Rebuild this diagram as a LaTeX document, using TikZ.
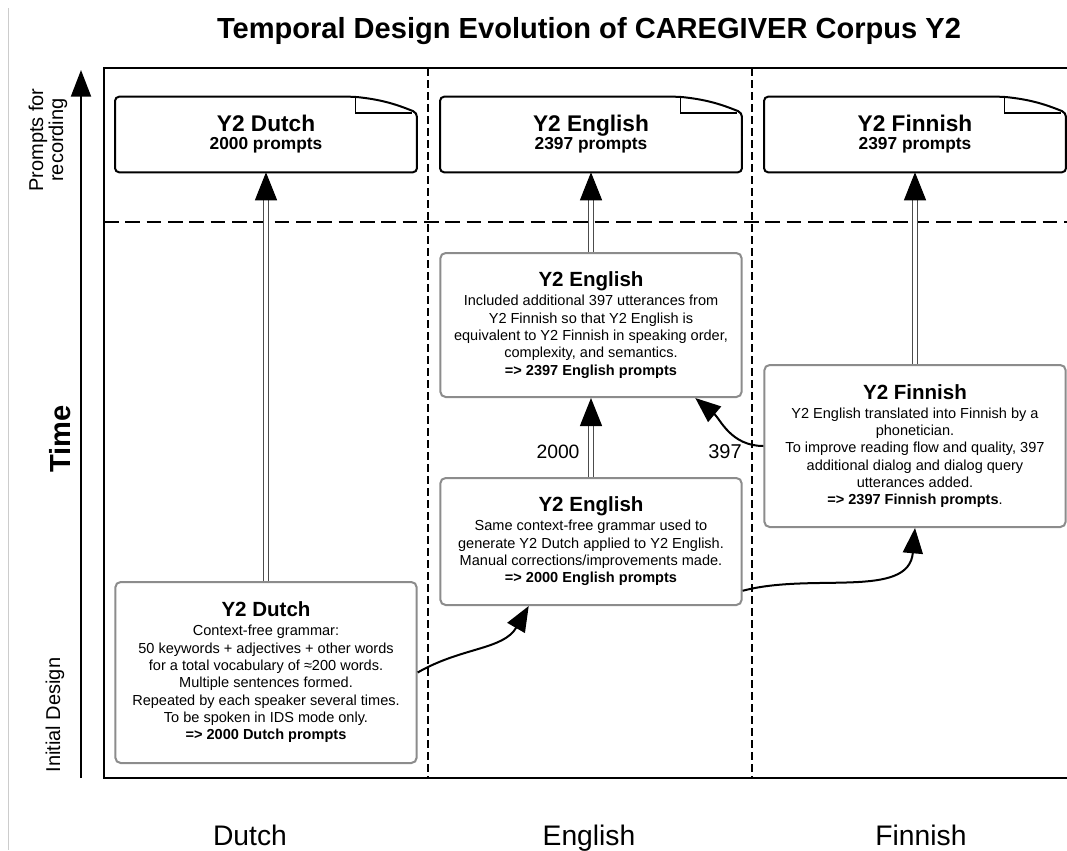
\documentclass[tikz,border=0pt]{standalone}
\usepackage{fontspec}
\setmainfont{Liberation Sans}
\usetikzlibrary{arrows.meta}

\newcommand{\stitle}[1]{{\fontsize{15.4}{18}\bfseries\selectfont #1}}
\newcommand{\dtitle}[1]{{\fontsize{17}{20}\bfseries\selectfont #1}}

\begin{document}
\begin{tikzpicture}[x=0.75pt, y=-0.75pt,
  stage/.style={draw=black!45, line width=1.5pt, rounded corners=4pt, fill=white,
    align=center, minimum width=226pt, inner sep=0pt, font=\fontsize{10.9}{13}\selectfont},
  doc/.style={minimum width=226pt, minimum height=56.25pt, inner sep=0pt, align=center,
    font=\fontsize{13}{13.5}\bfseries\selectfont},
  docline/.style={line width=1.5pt, rounded corners=3pt},
  dbl/.style={draw=black!70, line width=0.9pt, double=white, double distance=2.4pt,
    -{Triangle[length=21pt,width=16.5pt,color=black]}},
  flow/.style={line width=1.5pt, -{Triangle[length=19pt,width=15pt]}},
  colname/.style={anchor=base, font=\fontsize{21.2}{24}\selectfont}]
  \useasboundingbox (0,0) rectangle (1067,850);
  \draw[black!20, line width=0.75pt] (8,8) -- (8,850);
  \node[anchor=base, font=\fontsize{21.8}{26}\bfseries\selectfont] (title) at (589,38)
    {Temporal Design Evolution of CAREGIVER Corpus Y2};
  % axis and frame
  \draw[line width=1.5pt, -{Triangle[length=20pt,width=15pt]}] (81,778) -- (81,70);
  \draw[line width=1.5pt] (1067,68) -- (104,68) -- (104,778) -- (1067,778);
  \draw[line width=1.5pt, dash pattern=on 11pt off 5pt] (104,222) -- (1067,222);
  \draw[line width=1.5pt, dash pattern=on 6pt off 3pt] (428,68) -- (428,778);
  \draw[line width=1.5pt, dash pattern=on 6pt off 3pt] (752,68) -- (752,778);
  \node[rotate=90, align=center, font=\fontsize{15}{15}\selectfont] (prompts) at (48,140) {Prompts for\\recording};
  \node[rotate=90, font=\fontsize{21.8}{26}\bfseries\selectfont] (time) at (60,439) {Time};
  \node[rotate=90, font=\fontsize{15}{18}\selectfont] (initial) at (55,715) {Initial Design};
  % prompt sheets
  \node[doc] (docnl) at (266,134.5) {\dtitle{Y2 Dutch}\\2000 prompts};
  \node[doc] (docen) at (591,134.5) {\dtitle{Y2 English}\\2397 prompts};
  \node[doc] (docfi) at (915,134.5) {\dtitle{Y2 Finnish}\\2397 prompts};
  \foreach \d in {docnl,docen,docfi} {
    \draw[docline] (\d.north west) -- ([xshift=-47pt]\d.north east)
      to[bend left=8] ([yshift=-12pt]\d.north east) -- (\d.south east) -- (\d.south west) -- cycle;
    \draw[line width=1.2pt] ([xshift=-46pt]\d.north east) -- ++(0,-12pt) -- ([xshift=-4pt,yshift=-12pt]\d.north east);
  }
  % design stages
  \node[stage, minimum height=135.75pt] (nl) at (266,672.5) {\stitle{Y2 Dutch}\\[1.3pt]
    Context-free grammar:\\ 50 keywords + adjectives + other words\\
    for a total vocabulary of ≈200 words.\\ Multiple sentences formed.\\
    Repeated by each speaker several times.\\ To be spoken in IDS mode only.\\
    \textbf{=> 2000 Dutch prompts}};
  \node[stage, minimum height=95.25pt] (enlo) at (591,541.5) {\stitle{Y2 English}\\[1.3pt]
    Same context-free grammar used to\\ generate Y2 Dutch applied to Y2 English.\\
    Manual corrections/improvements made.\\ \textbf{=> 2000 English prompts}};
  \node[stage, minimum height=108pt] (enup) at (591,325) {\stitle{Y2 English}\\[1.3pt]
    Included additional 397 utterances from\\ Y2 Finnish so that Y2 English is\\
    equivalent to Y2 Finnish in speaking order,\\ complexity, and semantics.\\
    \textbf{=> 2397 English prompts}};
  \node[stage, minimum height=121.5pt] (fi) at (915,446) {\stitle{Y2 Finnish}\\[1.3pt]
    Y2 English translated into Finnish by a\\ phonetician.\\
    To improve reading flow and quality, 397\\ additional dialog and dialog query\\
    utterances added.\\ \textbf{=> 2397 Finnish prompts}.};
  % connectors
  \draw[dbl] (nl.north) -- (docnl.south);
  \draw[dbl] (enlo.north) -- (enup.south);
  \draw[dbl] (enup.north) -- (docen.south);
  \draw[dbl] (fi.north) -- (docfi.south);
  \draw[flow] (nl.east) to[out=30,in=-120] (enlo.226);
  \draw[flow] (enlo.-18) to[out=15,in=-95] (fi.south);
  \draw[flow] (fi.west) to[out=180,in=-40] (enup.-35);
  \node[font=\fontsize{14.5}{16}\selectfont] (n2000) at (558,452) {2000};
  \node[font=\fontsize{15}{16}\selectfont] (n397) at (725,452) {397};
  % languages
  \node[colname] (colnl) at (250,845) {Dutch};
  \node[colname] (colen) at (589,845) {English};
  \node[colname] (colfi) at (921,845) {Finnish};
\end{tikzpicture}
\end{document}
